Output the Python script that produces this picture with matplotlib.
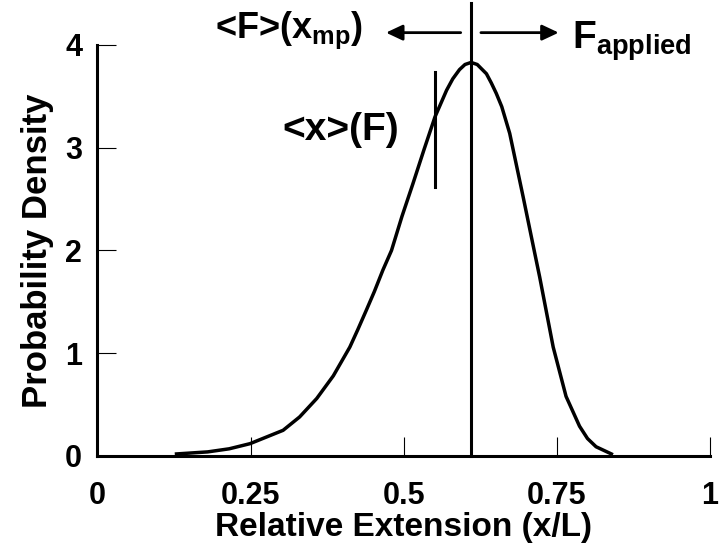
import matplotlib
matplotlib.use("Agg")
import matplotlib.pyplot as plt

plt.rcParams["font.family"] = "Liberation Sans"
plt.rcParams["font.weight"] = "bold"
plt.rcParams["mathtext.fontset"] = "custom"
plt.rcParams["mathtext.rm"] = "Liberation Sans:bold"
plt.rcParams["mathtext.it"] = "Liberation Sans:bold"
plt.rcParams["mathtext.bf"] = "Liberation Sans:bold"

# curve
ext = [0.129, 0.18, 0.215, 0.249, 0.303, 0.330, 0.358, 0.385, 0.412, 0.425,
       0.439, 0.452, 0.466, 0.480, 0.497, 0.515, 0.533, 0.551, 0.570, 0.580,
       0.591, 0.600, 0.610, 0.620, 0.635, 0.643, 0.651, 0.660, 0.673, 0.695,
       0.714, 0.722, 0.744, 0.765, 0.787, 0.800, 0.814, 0.839]
dens = [0.02, 0.04, 0.07, 0.12, 0.25, 0.38, 0.56, 0.78, 1.06, 1.23,
        1.42, 1.60, 1.81, 2.00, 2.33, 2.65, 2.98, 3.30, 3.56, 3.67,
        3.76, 3.81, 3.83, 3.81, 3.72, 3.63, 3.53, 3.40, 3.14, 2.52,
        1.97, 1.74, 1.06, 0.58, 0.29, 0.17, 0.09, 0.02]

x_mp = 0.61        # most probable extension
x_mean = 0.551     # <x>(F)
mean_span = [2.62, 3.74]

xticks = [0, 0.25, 0.5, 0.75, 1]
xlabels = ["0", "0.25", "0.5", "0.75", "1"]
yticks = [0, 1, 2, 3, 4]

fig = plt.figure(figsize=(7.2, 5.58), dpi=100)
ax = fig.add_axes([0.1354, 0.1828, 0.8507, 0.7366])

ax.plot(ext, dens, color="black", lw=2.5, solid_joinstyle="round")
ax.plot([x_mp, x_mp], [0, 4.41], color="black", lw=2.2, clip_on=False)
ax.plot([x_mean, x_mean], mean_span, color="black", lw=2.2)

ax.set_xlim(0, 1)
ax.set_ylim(0, 4)
ax.set_xticks(xticks)
ax.set_xticklabels(xlabels)
ax.set_yticks(yticks)
ax.spines["top"].set_visible(False)
ax.spines["right"].set_visible(False)
for s in ["left", "bottom"]:
    ax.spines[s].set_linewidth(2.2)
ax.tick_params(axis="x", direction="in", length=14, width=0.8, pad=18, labelsize=22)
ax.tick_params(axis="y", direction="in", length=14, width=0.8, pad=11, labelsize=22)

ax.set_xlabel("Relative Extension (x/L)", fontsize=24, fontweight="bold", labelpad=1)
ax.set_ylabel("Probability Density", fontsize=25, fontweight="bold", labelpad=8)

# arrows
arr = dict(arrowstyle="-|>,head_length=1.0,head_width=0.47", color="black",
           lw=2, mutation_scale=10, shrinkA=0, shrinkB=0)
ax.annotate("", xy=(0.471, 4.12), xytext=(0.593, 4.12), arrowprops=arr,
            annotation_clip=False)
ax.annotate("", xy=(0.753, 4.12), xytext=(0.626, 4.12), arrowprops=arr,
            annotation_clip=False)

ax.text(0.192, 4.065, r"<F>(x$_{\mathregular{mp}}$)", fontsize=26,
        fontweight="bold", va="baseline", ha="left", clip_on=False)
ax.text(0.774, 3.968, r"F$_{\mathregular{applied}}$", fontsize=28,
        fontweight="bold", va="baseline", ha="left", clip_on=False)
ax.text(0.3026, 3.075, "<x>(F)", fontsize=28, fontweight="bold",
        va="baseline", ha="left")

fig.savefig("out.png", dpi=100)
